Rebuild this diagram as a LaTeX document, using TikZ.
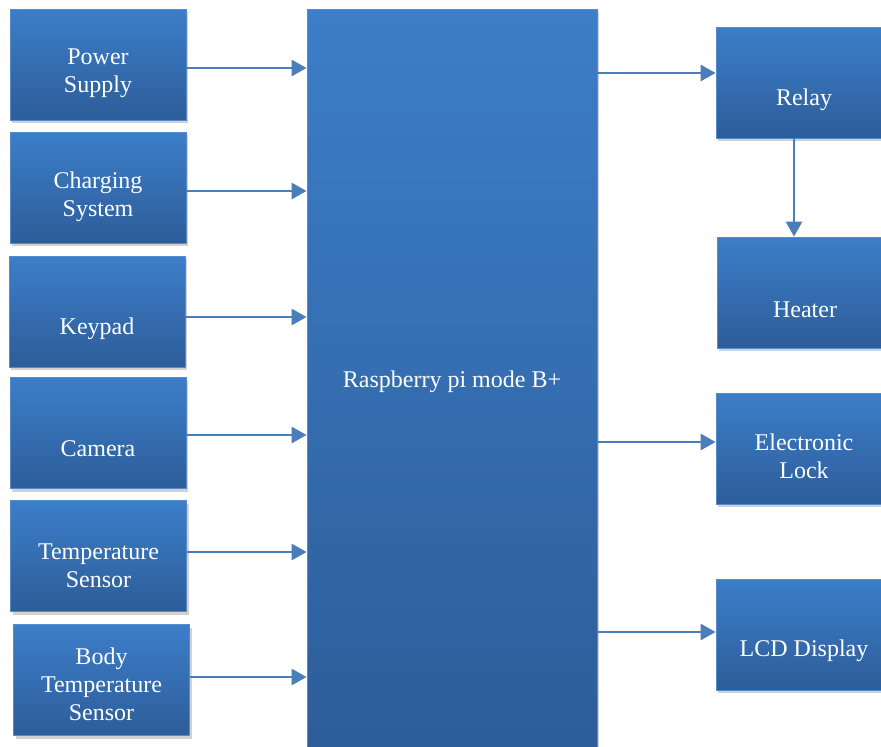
\documentclass[tikz,border=0pt]{standalone}
\usepackage{fontspec}
\setmainfont{Liberation Serif}
\usetikzlibrary{arrows.meta, positioning, shadows}
\definecolor{boxtop}{RGB}{60,126,201}
\definecolor{boxbot}{RGB}{45,93,153}
\definecolor{boxline}{RGB}{86,138,200}
\definecolor{wire}{RGB}{74,126,187}

\begin{document}
\begin{tikzpicture}[
    x=1pt, y=-1pt,
    >={Triangle[length=15pt,width=16pt]},
    module/.style={rectangle, draw=boxline, line width=0.8pt, top color=boxtop, bottom color=boxbot, minimum width=176pt, minimum height=111pt, inner sep=0pt, drop shadow={shadow xshift=2pt, shadow yshift=-3pt, opacity=0.3, fill=black!60}},
    lbl/.style={text=white, align=center, font=\fontsize{24}{28}\selectfont, yshift=#1},
    lbl/.default=-9pt,
    link/.style={->, line width=2.8pt, wire}
  ]
  \useasboundingbox (0,0) rectangle (881,747);

  % Inputs
  \node[module, label={[lbl]center:Power\\Supply}] (power) at (98,64.5) {};
  \node[module, label={[lbl]center:Charging\\System}] (charging) at (98,187.5) {};
  \node[module, label={[lbl=-17pt]center:Keypad}] (keypad) at (97,311.5) {};
  \node[module, label={[lbl=-16pt]center:Camera}] (camera) at (98,433) {};
  \node[module, label={[lbl=-10pt]center:Temperature\\Sensor}] (temp) at (98.5,556) {};
  \node[module, label={[lbl=-4pt]center:Body\\Temperature\\Sensor}] (body) at (101.5,680) {};

  % Controller
  \node[module, minimum width=290pt, minimum height=742pt, label={[lbl=-1.5pt]center:Raspberry pi mode B+}] (rpi) at (452,380) {};

  % Outputs
  \node[module, label={[lbl=-17.5pt]center:Relay}] (relay) at (804,82.5) {};
  \node[module, label={[lbl=-17.5pt]center:Heater}] (heater) at (805,292.5) {};
  \node[module, label={[lbl=-8pt]center:Electronic\\Lock}] (lock) at (804,448.5) {};
  \node[module, label={[lbl=-16.5pt]center:LCD Display}] (lcd) at (804,634.5) {};

  % Links
  \foreach \src/\dy in {power/-3.5, charging/-3.5, keypad/-5.5, camera/-2, temp/4, body/3} {
    \draw[link] ([yshift=\dy pt]\src.east) -- ([yshift=\dy pt]\src.east -| rpi.west);
  }
  \foreach \dst/\dy in {relay/9.5, lock/6.5, lcd/2.5} {
    \draw[link] ([yshift=\dy pt]\dst.west -| rpi.east) -- ([yshift=\dy pt]\dst.west);
  }
  \draw[link] ([xshift=-10pt]relay.south) -- ([xshift=-10pt]relay.south |- heater.north);

\end{tikzpicture}
\end{document}
